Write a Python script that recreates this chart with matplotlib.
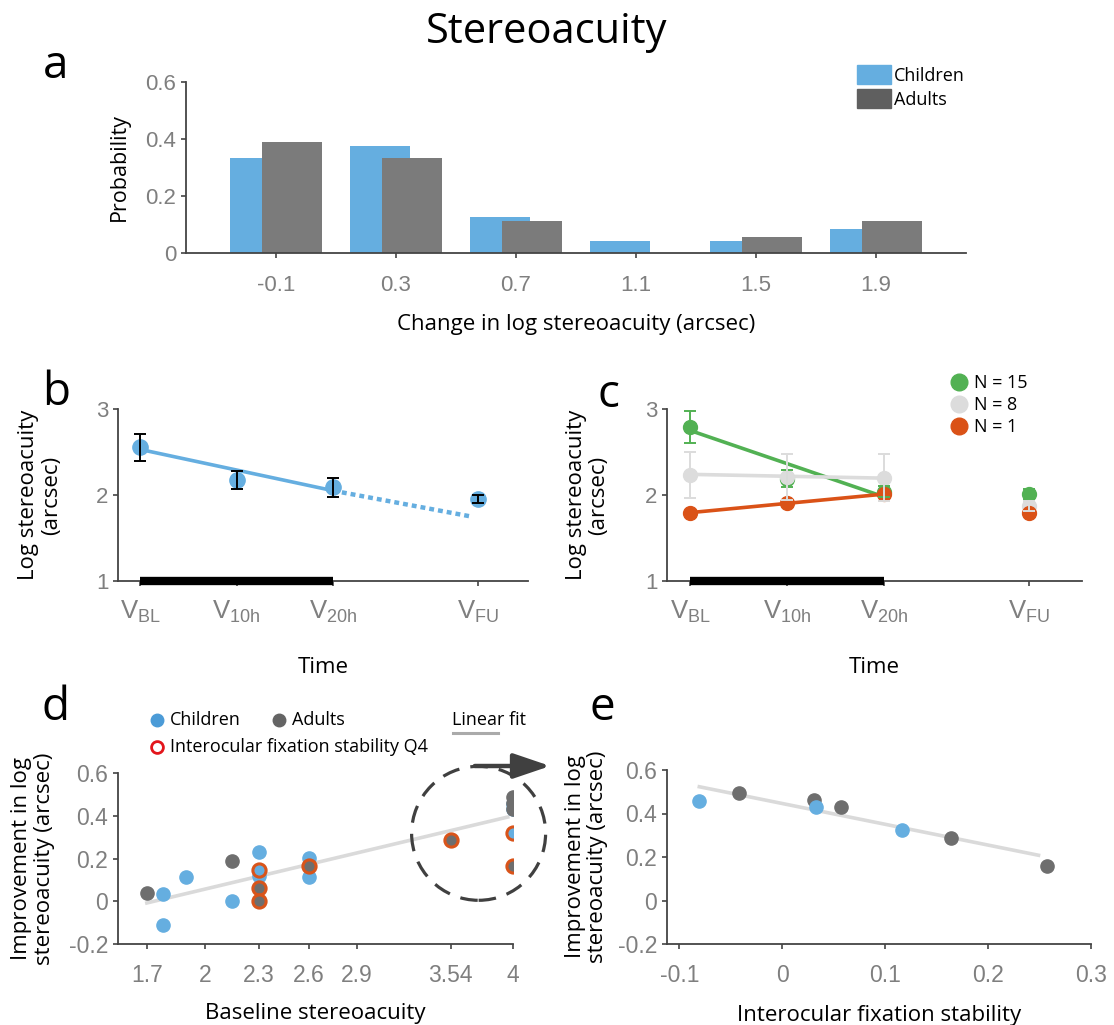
import numpy as np
import matplotlib
matplotlib.use('Agg')
import matplotlib.pyplot as plt
from matplotlib.lines import Line2D
from matplotlib.patches import Patch, Ellipse

# ---- data ----
# panel a: histogram of change in log stereoacuity
bins = [-0.1, 0.3, 0.7, 1.1, 1.5, 1.9]
prob_children = [0.333, 0.375, 0.125, 0.042, 0.042, 0.083]
prob_adults = [0.389, 0.333, 0.111, 0.0, 0.056, 0.111]

# panel b/c: visits
visits = [0, 1, 2, 3.5]
visit_labels = [r'V$_{\mathregular{BL}}$', r'V$_{\mathregular{10h}}$',
                r'V$_{\mathregular{20h}}$', r'V$_{\mathregular{FU}}$']
train_span = [0, 2]

b_mean = [2.555, 2.175, 2.09, 1.955]
b_err = [0.158, 0.105, 0.11, 0.05]
b_fit_y = [2.53, 2.05]
b_proj_x = [2, 3.43]
b_proj_y = [2.05, 1.75]

c_groups = ['N = 15', 'N = 8', 'N = 1']
c_mean = {
    'N = 15': [2.79, 2.19, 2.04, 2.01],
    'N = 8': [2.236, 2.21, 2.2, 1.872],
    'N = 1': [1.795, 1.905, 2.01, 1.787],
}
c_err = {
    'N = 15': [0.19, 0.10, 0.06, 0.055],
    'N = 8': [0.267, 0.27, 0.275, 0.06],
    'N = 1': None,
}
c_fit = {
    'N = 15': [2.75, 1.98],
    'N = 8': [2.24, 2.196],
    'N = 1': [1.795, 2.01],
}

# panel d: improvement vs baseline
d_child_x = [1.78, 1.78, 1.90, 2.15, 2.3, 2.3, 2.3, 2.6, 2.6, 4, 4, 4]
d_child_y = [0.033, -0.109, 0.114, 0.0, 0.23, 0.148, 0.12, 0.204, 0.114, 0.456, 0.433, 0.321]
d_child_q4 = [0, 0, 0, 0, 0, 1, 0, 0, 0, 0, 0, 1]
d_adult_x = [1.7, 2.15, 2.3, 2.3, 2.6, 3.54, 4, 4, 4, 4]
d_adult_y = [0.039, 0.188, 0.064, 0.0, 0.164, 0.288, 0.49, 0.46, 0.43, 0.164]
d_adult_q4 = [0, 0, 1, 1, 1, 1, 0, 0, 0, 1]
d_fit_x = [1.7, 3.96]
d_fit_y = [-0.008, 0.394]
d_ticks = [1.7, 2, 2.3, 2.6, 2.9, 3.54, 4]
d_ticklabels = ['1.7', '2', '2.3', '2.6', '2.9', '3.54', '4']

# panel e: improvement vs interocular fixation stability
e_child_x = [-0.081, 0.0326, 0.1167]
e_child_y = [0.458, 0.43, 0.323]
e_adult_x = [-0.042, 0.0306, 0.057, 0.1635, 0.257]
e_adult_y = [0.492, 0.46, 0.43, 0.289, 0.16]
e_fit_x = [-0.0806, 0.249]
e_fit_y = [0.523, 0.208]

# ---- style ----
blue = '#65AEE0'
bar_gray = '#7B7B7B'
pt_gray = '#6E6E6E'
ring = '#D9541A'
green = '#52B153'
light = '#DCDCDC'
orange = '#DA5217'
spine_c = '#444444'
tick_c = '#7F7F7F'
c_colors = {'N = 15': green, 'N = 8': light, 'N = 1': orange}

plt.rcParams['mathtext.fontset'] = 'custom'
plt.rcParams['mathtext.rm'] = 'Liberation Sans'
LBL = 'Open Sans'
TCK = 'Liberation Sans'

W, H = 1114, 1025
fig = plt.figure(figsize=(W / 100, H / 100), dpi=100)


def px(x0, y0, x1, y1):
    return [x0 / W, 1 - y1 / H, (x1 - x0) / W, (y1 - y0) / H]


def style(ax, xsize=16, ysize=16):
    for s in ['top', 'right']:
        ax.spines[s].set_visible(False)
    for s in ['left', 'bottom']:
        ax.spines[s].set_color(spine_c)
        ax.spines[s].set_linewidth(1.3)
    ax.tick_params(direction='out', length=3.5, width=1.2, color=spine_c,
                   labelcolor=tick_c)
    ax.tick_params(axis='x', labelsize=xsize)
    ax.tick_params(axis='y', labelsize=ysize)
    for t in ax.get_xticklabels() + ax.get_yticklabels():
        t.set_fontfamily(TCK)


def ylab(ax, text, x, size=16):
    ax.set_ylabel(text, fontfamily=LBL, fontsize=size, va='center',
                  linespacing=1.1)
    ax.yaxis.set_label_coords(x, 0.5)


def xlab(ax, text, y, size=16):
    ax.set_xlabel(text, fontfamily=LBL, fontsize=size, va='top')
    ax.xaxis.set_label_coords(0.5, y)


fig.text(547 / W, 1 - 43 / H, 'Stereoacuity', fontfamily=LBL, fontsize=30,
         ha='center', va='baseline')
for letter, (lx, ly) in zip('abcde', [(43, 78), (42, 405), (597, 407),
                                       (41, 720), (589, 720)]):
    fig.text(lx / W, 1 - ly / H, letter, fontfamily=LBL, fontsize=33,
             ha='left', va='baseline')

# ---- panel a ----
ax = fig.add_axes(px(186, 82, 966, 253))
xb = np.array(bins)
ax.bar(xb - 0.054, prob_children, width=0.2, color=blue, label='Children')
ax.bar(xb + 0.054, prob_adults, width=0.2, color=bar_gray, label='Adults')
ax.set_xlim(-0.4, 2.2)
ax.set_ylim(0, 0.6)
ax.set_xticks(bins)
ax.set_xticklabels(['-0.1', '0.3', '0.7', '1.1', '1.5', '1.9'])
ax.set_yticks([0, 0.2, 0.4, 0.6])
ax.set_yticklabels(['0', '0.2', '0.4', '0.6'])
style(ax, 16, 16)
ax.tick_params(axis='x', pad=12)
ylab(ax, 'Probability', -0.085, 15.5)
xlab(ax, 'Change in log stereoacuity (arcsec)', -0.357)
handles = [Patch(color=blue), Patch(color='#5F5F5F')]
ax.legend(handles, ['Children', 'Adults'], loc='upper left',
          bbox_to_anchor=(0.86, 1.1), frameon=False,
          prop={'family': LBL, 'size': 13}, handlelength=1.9,
          handleheight=1.25, handletextpad=0.15, labelspacing=0.25,
          borderaxespad=0, borderpad=0)

# ---- panel b ----
ax = fig.add_axes(px(118, 409, 528, 581))
ax.plot(visits[:3:2], b_fit_y, color=blue, lw=2.6, zorder=2)
ax.plot(b_proj_x, b_proj_y, color=blue, lw=3.2, ls=(0, (1.1, 0.9)),
        zorder=2)
ax.plot(visits, b_mean, 'o', color=blue, ms=11, zorder=3)
ax.errorbar(visits, b_mean, yerr=b_err, fmt='none', ecolor='black',
            elinewidth=1.4, capsize=4.5, capthick=1.4, zorder=4)
ax.plot(train_span, [1, 1], color='black', lw=6, solid_capstyle='butt',
        clip_on=False, zorder=5)
ax.set_xlim(-0.23, 4.02)
ax.set_ylim(1, 3)
ax.set_xticks(visits)
ax.set_xticklabels(visit_labels)
ax.set_yticks([1, 2, 3])
style(ax, 18.5, 16)
ax.tick_params(axis='x', pad=9)
ylab(ax, 'Log stereoacuity\n(arcsec)', -0.19)
xlab(ax, 'Time', -0.44)

# ---- panel c ----
ax = fig.add_axes(px(667, 409, 1082, 581))
for g in c_groups:
    col = c_colors[g]
    ax.plot(visits[:3:2], c_fit[g], color=col, lw=2.6, zorder=2)
for g in c_groups:
    col = c_colors[g]
    ax.plot(visits, c_mean[g], 'o', color=col, ms=10, zorder=3, label=g)
    if c_err[g] is not None:
        ax.errorbar(visits, c_mean[g], yerr=c_err[g], fmt='none', ecolor=col,
                    elinewidth=1.4, capsize=4.5, capthick=1.4, zorder=4)
ax.plot(train_span, [1, 1], color='black', lw=6, solid_capstyle='butt',
        clip_on=False, zorder=5)
ax.set_xlim(-0.24, 4.05)
ax.set_ylim(1, 3)
ax.set_xticks(visits)
ax.set_xticklabels(visit_labels)
ax.set_yticks([1, 2, 3])
style(ax, 18.5, 16)
ax.tick_params(axis='x', pad=9)
ylab(ax, 'Log stereoacuity\n(arcsec)', -0.192)
xlab(ax, 'Time', -0.44)
leg_handles = [Line2D([], [], marker='o', ls='none', ms=12, color=c_colors[g])
               for g in c_groups]
ax.legend(leg_handles, c_groups, loc='upper left',
          bbox_to_anchor=((950 - 667) / 415, (581 - 374) / 172),
          frameon=False, prop={'family': LBL, 'size': 13},
          handlelength=1.0, handletextpad=0.35, labelspacing=0.22,
          borderaxespad=0, borderpad=0)

# ---- panel d ----
ax = fig.add_axes(px(118, 773, 513, 944))
ax.set_xscale('function', functions=(np.sqrt, np.square))
ax.plot(d_fit_x, d_fit_y, color='#DADADA', lw=2.6, zorder=1)
ax.plot(d_child_x, d_child_y, 'o', color=blue, ms=9.5, zorder=2)
ax.plot(d_adult_x, d_adult_y, 'o', color=pt_gray, ms=9.5, zorder=3)
cq = np.array(d_child_q4, bool)
aq = np.array(d_adult_q4, bool)
ax.plot(np.array(d_child_x)[cq], np.array(d_child_y)[cq], 'o', mfc=blue,
        mec=ring, mew=2.2, ms=9.5, zorder=4)
ax.plot(np.array(d_adult_x)[aq], np.array(d_adult_y)[aq], 'o', mfc=pt_gray,
        mec=ring, mew=2.2, ms=9.5, zorder=4)
ax.set_xlim(1.56, 4.0)
ax.set_ylim(-0.2, 0.6)
ax.set_xticks(d_ticks)
ax.set_xticklabels(d_ticklabels)
ax.xaxis.set_minor_locator(matplotlib.ticker.NullLocator())
ax.set_yticks([-0.2, 0, 0.2, 0.4, 0.6])
ax.set_yticklabels(['-0.2', '0', '0.2', '0.4', '0.6'])
style(ax, 16.5, 16.5)
ax.tick_params(axis='x', pad=11)
ylab(ax, 'Improvement in log\nstereoacuity (arcsec)', -0.215)
xlab(ax, 'Baseline stereoacuity', -0.345)

# legend of panel d drawn in figure space
fig.add_artist(Line2D([157 / W], [1 - 720 / H], marker='o', ms=9,
                      color='#4B9BD7', transform=fig.transFigure))
fig.text(170 / W, 1 - 720 / H, 'Children', fontfamily=LBL, fontsize=13,
         va='center')
fig.add_artist(Line2D([279 / W], [1 - 720 / H], marker='o', ms=9,
                      color='#646464', transform=fig.transFigure))
fig.text(292 / W, 1 - 720 / H, 'Adults', fontfamily=LBL, fontsize=13,
         va='center')
fig.add_artist(Line2D([157 / W], [1 - 747 / H], marker='o', ms=8.5,
                      mfc='white', mec='#E3161C', mew=2,
                      transform=fig.transFigure))
fig.text(170 / W, 1 - 747 / H, 'Interocular fixation stability Q4',
         fontfamily=LBL, fontsize=13, va='center')
fig.text(452 / W, 1 - 720 / H, 'Linear fit', fontfamily=LBL, fontsize=13,
         va='center')
fig.add_artist(Line2D([453 / W, 498 / W], [1 - 733 / H, 1 - 733 / H],
                      color='#AAAAAA', lw=2.2, transform=fig.transFigure))

# dashed circle and arrow
fig.add_artist(Ellipse((478.6 / W, 1 - 833.3 / H), 134 / W, 134 / H,
                       fill=False, ec='#404040', lw=2.3, ls=(0, (5.5, 3.5)),
                       transform=fig.transFigure))
fig.add_artist(matplotlib.patches.FancyArrowPatch(
    (472 / W, 1 - 766 / H), (553 / W, 1 - 766 / H),
    arrowstyle='-|>,head_length=0.5,head_width=0.17', mutation_scale=45,
    lw=3.2, color='#404040', transform=fig.transFigure))

# ---- panel e ----
ax = fig.add_axes(px(667, 770, 1091, 944))
ax.plot(e_fit_x, e_fit_y, color='#DADADA', lw=2.6, zorder=1)
ax.plot(e_adult_x, e_adult_y, 'o', color=pt_gray, ms=9.5, zorder=2)
ax.plot(e_child_x, e_child_y, 'o', color=blue, ms=9.5, zorder=3)
ax.set_xlim(-0.112, 0.3)
ax.set_ylim(-0.2, 0.6)
ax.set_xticks([-0.1, 0, 0.1, 0.2, 0.3])
ax.set_xticklabels(['-0.1', '0', '0.1', '0.2', '0.3'])
ax.set_yticks([-0.2, 0, 0.2, 0.4, 0.6])
ax.set_yticklabels(['-0.2', '0', '0.2', '0.4', '0.6'])
style(ax, 16.5, 16.5)
ax.tick_params(axis='x', pad=11)
ylab(ax, 'Improvement in log\nstereoacuity (arcsec)', -0.19)
xlab(ax, 'Interocular fixation stability', -0.35)

fig.savefig('out.png', dpi=100)
